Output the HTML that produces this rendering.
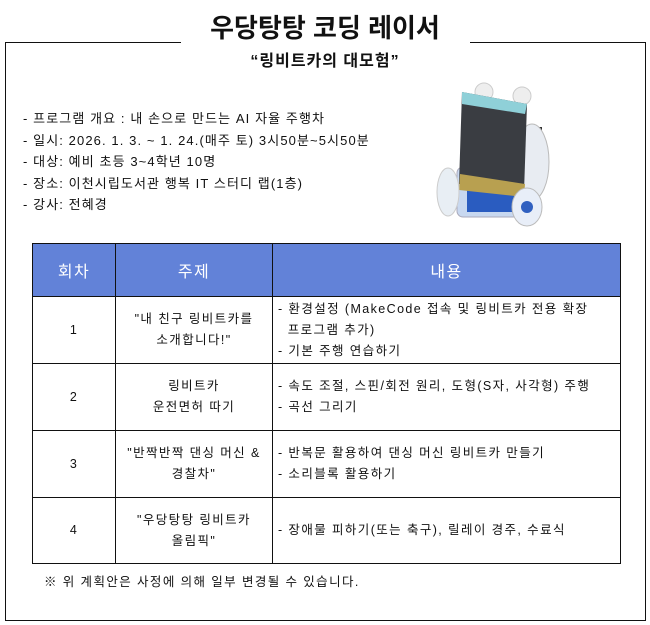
<!DOCTYPE html>
<html><head><meta charset="utf-8"><style>
body{margin:0;width:650px;height:625px;background:#fff;position:relative;font-family:"Liberation Sans","Noto Sans CJK KR","NanumGothic",sans-serif;color:#111;overflow:hidden}
.a{position:absolute;white-space:nowrap}
table{position:absolute;left:32px;top:243px;border-collapse:collapse;font-size:12.5px;table-layout:fixed;width:588px;letter-spacing:1.4px}
td{border:1px solid #111;text-align:center;line-height:21px;padding:0;white-space:nowrap}
th{background:#6282d8;color:#fff;font-weight:normal;font-size:16px;border:1px solid #111;height:50px}
td.l{text-align:left;padding-left:5px}
</style></head><body>
<div class="a" style="left:5px;top:42px;width:639px;height:577px;border:1px solid #111"></div>
<div class="a" style="left:181px;top:38px;width:289px;height:8px;background:#fff"></div>
<div class="a" style="left:0;width:650px;top:8px;text-align:center;font-size:26px;font-weight:bold">우당탕탕 코딩 레이서</div>
<div class="a" style="left:0;width:650px;top:47px;text-align:center;font-size:16px;font-weight:bold;letter-spacing:1px">“링비트카의 대모험”</div>
<div class="a" style="left:23px;top:108px;font-size:13px;line-height:21.5px;letter-spacing:1.1px">
- 프로그램 개요 : 내 손으로 만드는 AI 자율 주행차<br>- 일시: 2026. 1. 3. ~ 1. 24.(매주 토) 3시50분~5시50분<br>- 대상: 예비 초등 3~4학년 10명<br>- 장소: 이천시립도서관 행복 IT 스터디 랩(1층)<br>- 강사: 전혜경</div>
<svg class="a" style="left:432px;top:82px" width="150" height="145">
<ellipse cx="52" cy="10" rx="9" ry="9" fill="#eee" stroke="#ccc"/><ellipse cx="90" cy="14" rx="9" ry="9" fill="#eee" stroke="#ccc"/>
<rect x="85" y="45" width="25" height="60" fill="#333"/>
<ellipse cx="100" cy="80" rx="17" ry="38" fill="#e8ecf2" stroke="#bbb"/>
<rect x="25" y="85" width="65" height="50" rx="6" fill="#c8d8f0" stroke="#aab"/>
<rect x="35" y="95" width="48" height="35" fill="#2a5cc0"/>
<polygon points="30,10 95,22 92,110 27,102" fill="#3a3d42"/>
<polygon points="30,10 95,22 93,32 30,22" fill="#8fd0d8"/>
<polygon points="28,92 93,102 92,115 27,108" fill="#b8a050"/>
<ellipse cx="95" cy="125" rx="15" ry="19" fill="#e8eef8" stroke="#bbb"/><circle cx="95" cy="125" r="6" fill="#3060c0"/>
<ellipse cx="16" cy="110" rx="11" ry="24" fill="#e8eef4" stroke="#ccc"/>
</svg>
<table>
<colgroup><col style="width:83px"><col style="width:157px"><col style="width:348px"></colgroup>
<tr><th>회차</th><th>주제</th><th>내용</th></tr>
<tr style="height:67px"><td>1</td><td>"내 친구 링비트카를<br>소개합니다!"</td><td class="l">- 환경설정 (MakeCode 접속 및 링비트카 전용 확장<br>&nbsp;&nbsp;프로그램 추가)<br>- 기본 주행 연습하기</td></tr>
<tr style="height:67px"><td>2</td><td>링비트카<br>운전면허 따기</td><td class="l">- 속도 조절, 스핀/회전 원리, 도형(S자, 사각형) 주행<br>- 곡선 그리기</td></tr>
<tr style="height:67px"><td>3</td><td>"반짝반짝 댄싱 머신 &amp;<br>경찰차"</td><td class="l">- 반복문 활용하여 댄싱 머신 링비트카 만들기<br>- 소리블록 활용하기</td></tr>
<tr style="height:66px"><td>4</td><td>"우당탕탕 링비트카<br>올림픽"</td><td class="l">- 장애물 피하기(또는 축구), 릴레이 경주, 수료식</td></tr>
</table>
<div class="a" style="left:44px;top:571px;font-size:12.5px;letter-spacing:1.4px">※ 위 계획안은 사정에 의해 일부 변경될 수 있습니다.</div>
</body></html>
